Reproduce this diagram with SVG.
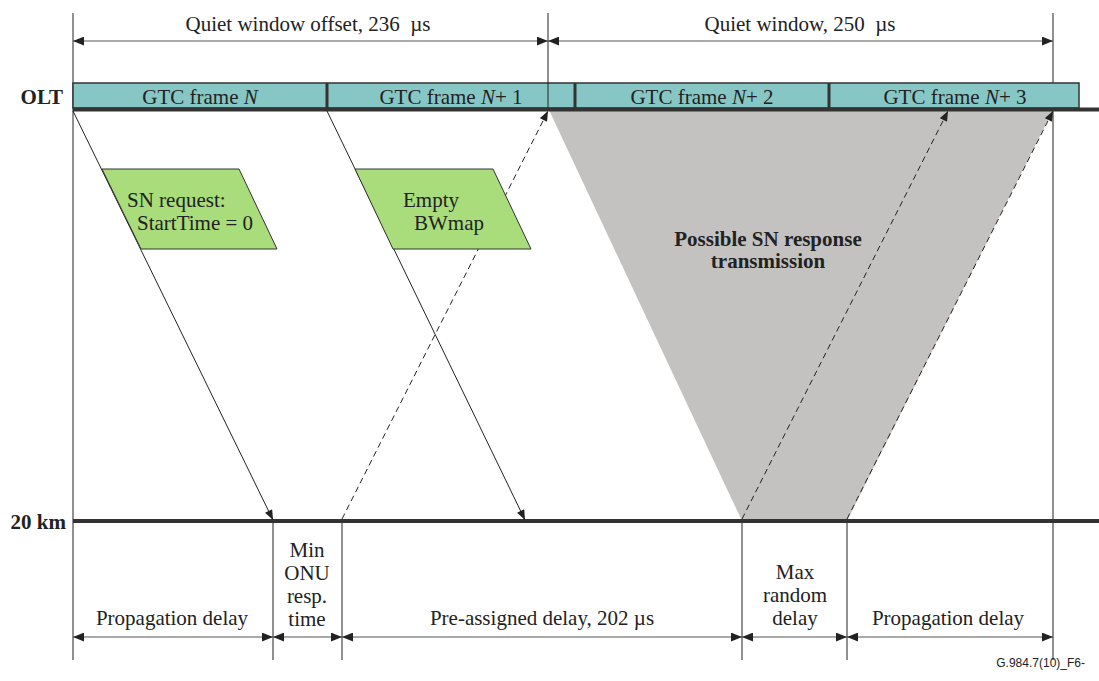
<svg xmlns="http://www.w3.org/2000/svg" width="1099" height="681" viewBox="0 0 1099 681">
<style>
.t{font-family:"Liberation Serif","Times New Roman",serif;font-size:21px;fill:#222}
.b{font-weight:bold}
.thin{stroke:#222;stroke-width:1;fill:none}
.dim{stroke:#555;stroke-width:1;fill:none}
.thick{stroke:#333;stroke-width:4;fill:none}
.frame{fill:#86c7c6;stroke:#333;stroke-width:1.5}
.para{fill:#a9dc7a;stroke:#333;stroke-width:1}
.diag{stroke:#222;stroke-width:1;fill:none}
.dash{stroke:#222;stroke-width:1;fill:none;stroke-dasharray:6,4}
</style>
<defs>
<marker id="ah" viewBox="0 0 10 8" refX="10" refY="4" markerWidth="11" markerHeight="9" markerUnits="userSpaceOnUse" orient="auto-start-reverse">
<path d="M0,0 L10,4 L0,8 Z" fill="#222"/>
</marker>
<marker id="ad" viewBox="0 0 10 8" refX="10" refY="4" markerWidth="11" markerHeight="8" markerUnits="userSpaceOnUse" orient="auto">
<path d="M0,0 L10,4 L0,8 Z" fill="#222"/>
</marker>
</defs>
<polygon id="sn-region" points="549,110 1053,110 847,521 742,521" fill="#c3c2c1"/>
<g id="guides">
<line class="thin" x1="73" y1="13" x2="73" y2="660"/>
<line class="thin" x1="1053" y1="13" x2="1053" y2="660"/>
<line class="thin" x1="273" y1="521" x2="273" y2="660"/>
<line class="thin" x1="342" y1="521" x2="342" y2="660"/>
<line class="thin" x1="742" y1="521" x2="742" y2="660"/>
<line class="thin" x1="847" y1="521" x2="847" y2="660"/>
</g>
<g id="olt-bar">
<rect class="frame" x="73" y="83" width="1006" height="25"/>
<line x1="327" y1="83" x2="327" y2="108" stroke="#333" stroke-width="3"/>
<line x1="575" y1="83" x2="575" y2="108" stroke="#333" stroke-width="3"/>
<line x1="829" y1="83" x2="829" y2="108" stroke="#333" stroke-width="3"/>
<text class="t" x="200" y="104" text-anchor="middle">GTC frame <tspan font-style="italic">N</tspan></text>
<text class="t" x="451" y="104" text-anchor="middle">GTC frame <tspan font-style="italic">N</tspan>+ 1</text>
<text class="t" x="702" y="104" text-anchor="middle">GTC frame <tspan font-style="italic">N</tspan>+ 2</text>
<text class="t" x="955" y="104" text-anchor="middle">GTC frame <tspan font-style="italic">N</tspan>+ 3</text>
</g>
<line class="thin" x1="548" y1="13" x2="548" y2="109"/>
<g id="axes">
<line class="thick" x1="73" y1="109.5" x2="1099" y2="109.5"/>
<line class="thick" x1="73" y1="521" x2="1099" y2="521"/>
<text class="t b" x="63" y="104" font-size="20" text-anchor="end">OLT</text>
<text class="t b" x="66" y="529" font-size="20" text-anchor="end">20 km</text>
</g>
<g id="connectors">
<line class="diag" x1="73" y1="111" x2="273" y2="520" marker-end="url(#ad)"/>
<line class="diag" x1="327" y1="111" x2="525" y2="520" marker-end="url(#ad)"/>
<line class="dash" x1="342" y1="519" x2="548" y2="111" marker-end="url(#ad)"/>
<line class="dash" x1="742" y1="519" x2="948" y2="111" marker-end="url(#ad)"/>
<line class="dash" x1="847" y1="519" x2="1053" y2="111" marker-end="url(#ad)"/>
</g>
<g id="sn-request">
<polygon class="para" points="102,169 239,169 277,249 141,249"/>
<text class="t" x="127" y="207">SN request:</text>
<text class="t" x="137" y="230">StartTime = 0</text>
</g>
<g id="empty-bwmap">
<polygon class="para" points="355,169 493,169 531,249 393,249"/>
<text class="t" x="403" y="207">Empty</text>
<text class="t" x="414" y="230">BWmap</text>
</g>
<g id="sn-response-label">
<text class="t b" x="768" y="246" text-anchor="middle">Possible SN response</text>
<text class="t b" x="768" y="268" text-anchor="middle">transmission</text>
</g>
<g id="dimensions">
<line class="dim" x1="73" y1="41" x2="548" y2="41" marker-start="url(#ah)" marker-end="url(#ah)"/>
<line class="dim" x1="548" y1="41" x2="1053" y2="41" marker-start="url(#ah)" marker-end="url(#ah)"/>
<text class="t" x="308" y="31" text-anchor="middle">Quiet window offset, 236&#160; µs</text>
<text class="t" x="800" y="31" text-anchor="middle">Quiet window, 250&#160; µs</text>
<line class="dim" x1="73" y1="637" x2="273" y2="637" marker-start="url(#ah)" marker-end="url(#ah)"/>
<line class="dim" x1="273" y1="637" x2="342" y2="637" marker-start="url(#ah)" marker-end="url(#ah)"/>
<line class="dim" x1="342" y1="637" x2="742" y2="637" marker-start="url(#ah)" marker-end="url(#ah)"/>
<line class="dim" x1="742" y1="637" x2="847" y2="637" marker-start="url(#ah)" marker-end="url(#ah)"/>
<line class="dim" x1="847" y1="637" x2="1053" y2="637" marker-start="url(#ah)" marker-end="url(#ah)"/>
<text class="t" x="172" y="625" text-anchor="middle">Propagation delay</text>
<text class="t" x="307" y="557" text-anchor="middle">Min</text>
<text class="t" x="307" y="580" text-anchor="middle">ONU</text>
<text class="t" x="307" y="603" text-anchor="middle">resp.</text>
<text class="t" x="307" y="626" text-anchor="middle">time</text>
<text class="t" x="542" y="625" text-anchor="middle">Pre-assigned delay, 202 µs</text>
<text class="t" x="795" y="579" text-anchor="middle">Max</text>
<text class="t" x="795" y="602" text-anchor="middle">random</text>
<text class="t" x="795" y="625" text-anchor="middle">delay</text>
<text class="t" x="948" y="625" text-anchor="middle">Propagation delay</text>
</g>
<text x="1085" y="667" text-anchor="end" font-family="Liberation Sans, Arial, sans-serif" font-size="12" fill="#222">G.984.7(10)_F6-</text>
</svg>
